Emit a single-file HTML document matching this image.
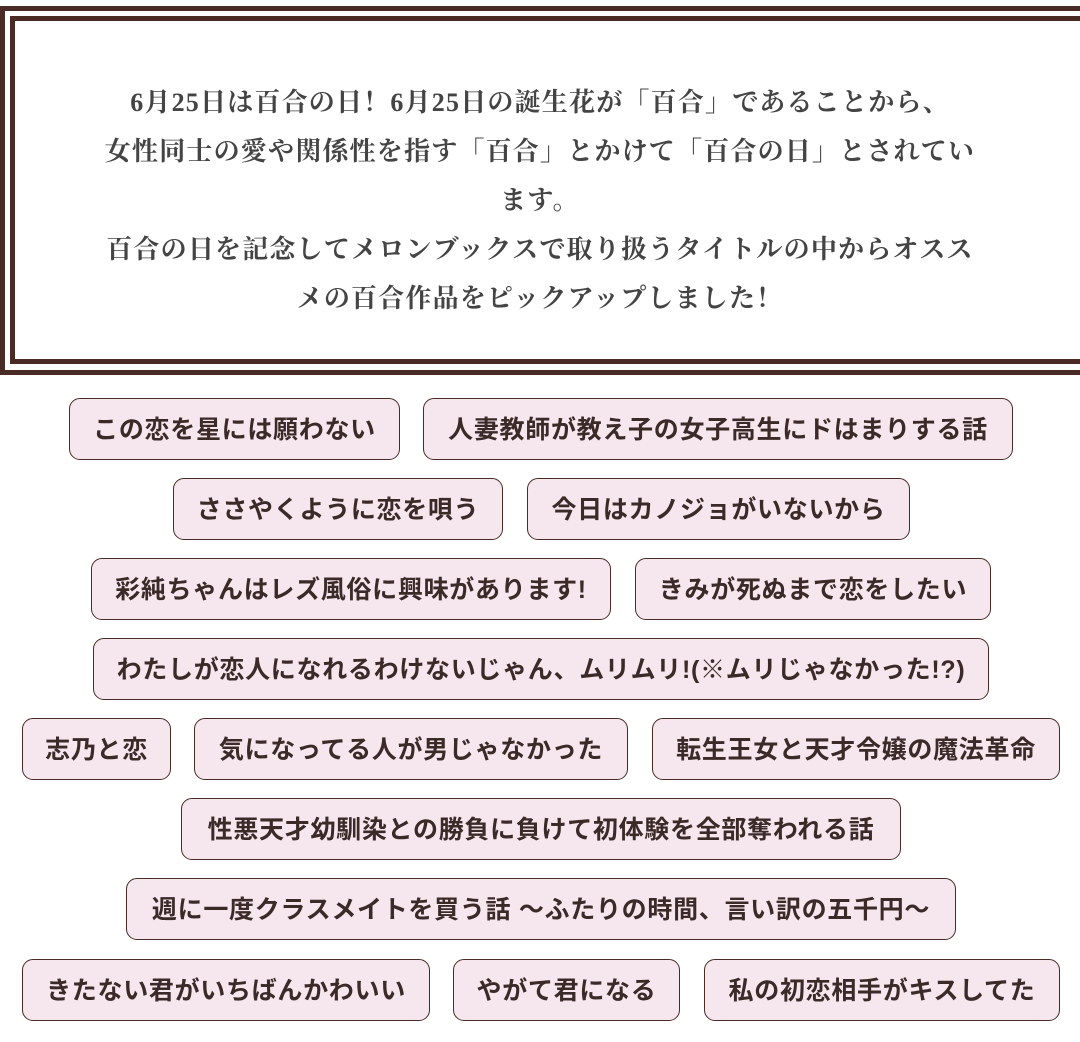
<!DOCTYPE html>
<html><head><meta charset="utf-8"><style>
*{margin:0;padding:0;box-sizing:border-box}
body{width:1080px;height:1042px;background:#fff;position:relative;overflow:hidden}
.o{position:absolute;left:0;top:6px;width:1085px;height:369px;border:5px solid #4a2a24;}
.i{position:absolute;left:10px;top:16px;width:1075px;height:348px;border:5px solid #4a2a24;}
.txt{position:absolute;left:40px;width:1000px;top:78px;text-align:center;font-family:"Liberation Serif","Noto Serif CJK SC",serif;font-weight:bold;font-size:26px;line-height:49px;color:#444;letter-spacing:1.2px}
.t{position:absolute;height:62px;border:1.5px solid #4a2a24;border-radius:11px;background:#f6e6ee;font-family:"Liberation Sans","Noto Sans CJK JP",sans-serif;font-weight:bold;font-size:25px;line-height:62px;text-align:center;color:#3a2a28;white-space:nowrap;letter-spacing:0.7px}
</style></head><body>
<div class="o"></div><div class="i"></div>
<div class="txt">6月25日は百合の日！6月25日の誕生花が「百合」であることから、<br>女性同士の愛や関係性を指す「百合」とかけて「百合の日」とされてい<br>ます。<br>百合の日を記念してメロンブックスで取り扱うタイトルの中からオスス<br>メの百合作品をピックアップしました！</div>
<div class="t" style="left:69px;top:398px;width:331px">この恋を星には願わない</div>
<div class="t" style="left:423px;top:398px;width:590px">人妻教師が教え子の女子高生にドはまりする話</div>
<div class="t" style="left:173px;top:478px;width:330px">ささやくように恋を唄う</div>
<div class="t" style="left:527px;top:478px;width:383px">今日はカノジョがいないから</div>
<div class="t" style="left:91px;top:558px;width:520px">彩純ちゃんはレズ風俗に興味があります!</div>
<div class="t" style="left:635px;top:558px;width:356px">きみが死ぬまで恋をしたい</div>
<div class="t" style="left:93px;top:638px;width:896px">わたしが恋人になれるわけないじゃん、ムリムリ!(※ムリじゃなかった!?)</div>
<div class="t" style="left:22px;top:718px;width:149px">志乃と恋</div>
<div class="t" style="left:194px;top:718px;width:434px">気になってる人が男じゃなかった</div>
<div class="t" style="left:652px;top:718px;width:408px">転生王女と天才令嬢の魔法革命</div>
<div class="t" style="left:181px;top:798px;width:720px">性悪天才幼馴染との勝負に負けて初体験を全部奪われる話</div>
<div class="t" style="left:126px;top:878px;width:830px">週に一度クラスメイトを買う話 ～ふたりの時間、言い訳の五千円～</div>
<div class="t" style="left:22px;top:959px;width:408px">きたない君がいちばんかわいい</div>
<div class="t" style="left:453px;top:959px;width:227px">やがて君になる</div>
<div class="t" style="left:704px;top:959px;width:356px">私の初恋相手がキスしてた</div>
</body></html>
